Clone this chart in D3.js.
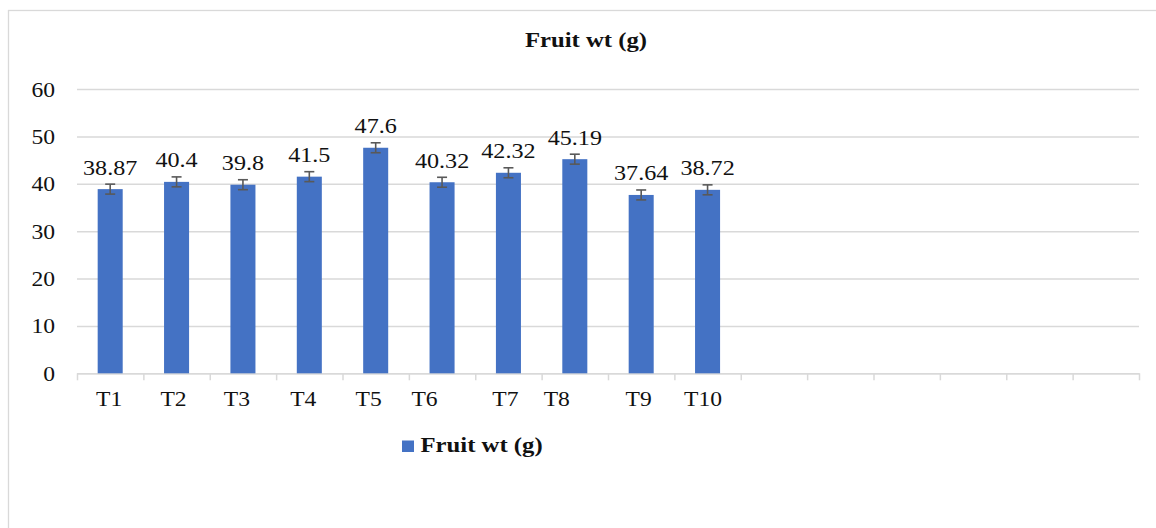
<!DOCTYPE html>
<html>
<head>
<meta charset="utf-8">
<script src="https://cdn.jsdelivr.net/npm/d3@7"></script>
<style>
  html, body { margin: 0; padding: 0; background: #fff; }
  svg { display: block; font-family: "Liberation Serif", "Times New Roman", serif; }
</style>
</head>
<body>
<svg id="chart" width="1156" height="528"></svg>
<script>
// ---- data ----
const categories = ["T1", "T2", "T3", "T4", "T5", "T6", "T7", "T8", "T9", "T10"];
const values = [38.87, 40.4, 39.8, 41.5, 47.6, 40.32, 42.32, 45.19, 37.64, 38.72];
const errors = [1.05, 1.05, 1.05, 1.05, 1.05, 1.05, 1.05, 1.05, 1.05, 1.05];
const yTicks = [0, 10, 20, 30, 40, 50, 60];
const seriesName = "Fruit wt (g)";
const chartTitle = "Fruit wt (g)";

// ---- layout ----
const totalSlots = 16;
const labelShift = [-1, -3, -6, -6, -7, -17.5, -3, -18, -2.5, -4.5];
const plotL = 77, plotR = 1139, plotT = 89, plotB = 373.3;
const stretch = "scale(1.15,1)";
const serif = "Liberation Serif, Times New Roman, serif";
const svg = d3.select("#chart");

svg.append("rect").attr("x", 8.5).attr("y", 10.5).attr("width", 1170).attr("height", 540)
  .attr("fill", "#fff").attr("stroke", "#d9d9d9").attr("stroke-width", 1.3);

const slots = d3.range(totalSlots);
const x = d3.scaleBand().domain(slots).range([plotL, plotR]).padding(0);
const xLin = d3.scaleLinear().domain([0, totalSlots]).range([plotL, plotR]);
const y = d3.scaleLinear().domain([0, 60]).range([plotB, plotT]);
const barW = x.bandwidth() * 0.377;

// gridlines + y labels
const yAxis = svg.append("g").attr("transform", `translate(${plotL},0)`)
  .call(d3.axisLeft(y).tickValues(yTicks).tickSize(-(plotR - plotL)).tickFormat(d3.format("d")));
yAxis.attr("font-family", serif);
yAxis.select(".domain").remove();
yAxis.selectAll(".tick line").attr("stroke", "#d9d9d9").attr("stroke-width", 1.5);
yAxis.selectAll(".tick text")
  .attr("x", null).attr("dy", null)
  .attr("transform", "translate(-22,7) " + stretch)
  .attr("text-anchor", "end")
  .attr("font-size", 20.5).attr("fill", "#111")
  .attr("font-family", serif);

// x axis line + boundary ticks
const xAxis = svg.append("g").attr("transform", `translate(0,${plotB})`)
  .call(d3.axisBottom(xLin).tickValues(d3.range(totalSlots + 1)).tickSize(7).tickFormat("").tickSizeOuter(0));
xAxis.select(".domain").attr("stroke", "#d9d9d9").attr("stroke-width", 1.5);
xAxis.selectAll(".tick line").attr("stroke", "#d9d9d9").attr("stroke-width", 1.5);

// category labels
const xLab = svg.append("g").attr("transform", `translate(0,${plotB})`)
  .call(d3.axisBottom(x).tickValues(d3.range(categories.length)).tickSize(0)
    .tickFormat(i => categories[i]));
xLab.attr("font-family", serif);
xLab.select(".domain").remove();
xLab.selectAll(".tick text")
  .attr("y", null).attr("dy", null)
  .attr("transform", (i) => `translate(${labelShift[i]},33) ` + stretch)
  .attr("font-size", 20.5).attr("fill", "#111")
  .attr("font-family", serif);

// bars
const data = categories.map((c, i) => ({ c, i, v: values[i], e: errors[i] }));
svg.append("g").selectAll("rect").data(data).join("rect")
  .attr("x", d => x(d.i) + (x.bandwidth() - barW) / 2)
  .attr("y", d => y(d.v))
  .attr("width", barW)
  .attr("height", d => y(0) - y(d.v))
  .attr("fill", "#4472c4");

// error bars
const eg = svg.append("g").attr("stroke", "#595959").attr("stroke-width", 1.6);
data.forEach(d => {
  const cx = x(d.i) + x.bandwidth() / 2;
  eg.append("line").attr("x1", cx).attr("x2", cx).attr("y1", y(d.v + d.e)).attr("y2", y(d.v - d.e));
  eg.append("line").attr("x1", cx - 5).attr("x2", cx + 5).attr("y1", y(d.v + d.e)).attr("y2", y(d.v + d.e));
  eg.append("line").attr("x1", cx - 5).attr("x2", cx + 5).attr("y1", y(d.v - d.e)).attr("y2", y(d.v - d.e));
});

// value labels
svg.append("g").selectAll("text").data(data).join("text")
  .attr("transform", d => `translate(${x(d.i) + x.bandwidth() / 2},${y(d.v) - 14.5}) ` + stretch)
  .attr("text-anchor", "middle")
  .attr("font-size", 21).attr("fill", "#111")
  .attr("font-family", serif)
  .text(d => String(d.v));

// title
svg.append("text")
  .attr("transform", `translate(586,47) ` + stretch)
  .attr("text-anchor", "middle")
  .attr("font-size", 21.5).attr("font-weight", "bold").attr("fill", "#111")
  .attr("font-family", serif)
  .text(chartTitle);

// legend
const lg = svg.append("g");
lg.append("rect").attr("x", 402).attr("y", 440.5).attr("width", 12).attr("height", 11.5).attr("fill", "#4472c4");
lg.append("text")
  .attr("transform", `translate(420.5,452) ` + stretch)
  .attr("font-size", 21.5).attr("font-weight", "bold").attr("fill", "#111")
  .attr("font-family", serif)
  .text(seriesName);
</script>
</body>
</html>
